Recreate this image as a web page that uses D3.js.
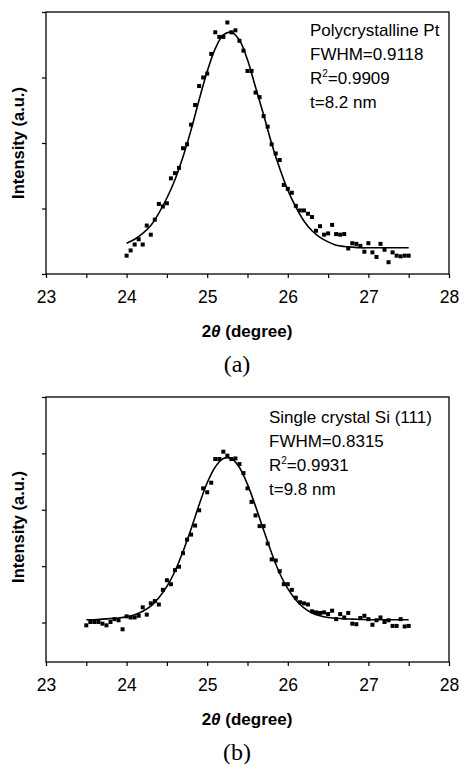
<!DOCTYPE html>
<html>
<head>
<meta charset="utf-8">
<script src="https://cdn.jsdelivr.net/npm/d3@7"></script>
<style>
  body { margin: 0; background: #fff; }
  text { font-family: Arial, "Liberation Sans", sans-serif; fill: #000; }
</style>
</head>
<body>
<div id="chart"></div>
<script>
// XRD peak, measured intensity every 0.05 deg (a.u.)
// (a) polycrystalline Pt, 24.00 .. 27.50
var ptsA = [0.28, 0.36, 0.45, 0.53, 0.45, 0.74, 0.60, 0.83, 1.07, 1.03,
            1.08, 1.46, 1.54, 1.62, 1.92, 1.98, 2.28, 2.58, 2.87, 3.00,
            3.06, 3.36, 3.69, 3.62, 3.62, 3.84, 3.69, 3.72, 3.56, 3.41,
            3.10, 3.10, 2.77, 2.70, 2.41, 2.25, 1.98, 1.84, 1.74, 1.36,
            1.30, 1.24, 1.04, 0.97, 0.97, 0.92, 0.87, 0.66, 0.73, 0.60,
            0.62, 0.75, 0.61, 0.60, 0.61, 0.39, 0.47, 0.46, 0.43, 0.34,
            0.47, 0.33, 0.26, 0.46, 0.37, 0.18, 0.33, 0.28, 0.27, 0.28, 0.28];
// fitted curve read every 0.1 deg, 24.0 .. 27.5
var fitA = [0.47, 0.53, 0.62, 0.74, 0.93, 1.16, 1.44, 1.79, 2.20, 2.66,
            3.09, 3.44, 3.65, 3.69, 3.57, 3.27, 2.85, 2.43, 1.99, 1.61,
            1.28, 1.02, 0.81, 0.66, 0.56, 0.49, 0.44, 0.42, 0.41, 0.40,
            0.40, 0.40, 0.40, 0.40, 0.40, 0.40];

// (b) single crystal Si (111), 23.50 .. 27.50
var ptsB = [-0.05, 0.01, 0.01, 0.01, -0.02, -0.05, 0.01, 0.06, 0.04, -0.12,
            0.11, 0.09, 0.09, 0.12, 0.27, 0.14, 0.34, 0.38, 0.32, 0.58,
            0.75, 0.68, 0.93, 0.99, 1.23, 1.47, 1.56, 1.72, 1.99, 2.38,
            2.31, 2.48, 2.90, 2.90, 3.03, 2.96, 2.90, 2.91, 2.81, 2.65,
            2.38, 2.14, 1.90, 1.71, 1.71, 1.40, 1.12, 1.10, 0.91, 0.68,
            0.68, 0.58, 0.44, 0.36, 0.34, 0.32, 0.20, 0.18, 0.17, 0.18,
            0.15, 0.21, 0.06, 0.15, 0.09, 0.17, -0.02, -0.03, 0.08, 0.12,
            0.06, -0.04, 0.04, 0.09, 0.01, 0.04, -0.06, -0.06, 0.06, -0.07, -0.06];
var fitB = [0.05, 0.05, 0.06, 0.07, 0.08, 0.10, 0.14, 0.20, 0.29, 0.44,
            0.64, 0.91, 1.26, 1.66, 2.09, 2.48, 2.76, 2.91, 2.91, 2.75,
            2.45, 2.06, 1.64, 1.23, 0.87, 0.60, 0.40, 0.26, 0.17, 0.12,
            0.09, 0.075, 0.065, 0.06, 0.055, 0.05, 0.05, 0.05, 0.05, 0.05, 0.05];

var xTicks = [23, 23.5, 24, 24.5, 25, 25.5, 26, 26.5, 27, 27.5, 28];
var yTicks = [0, 1, 2, 3, 4];

var notesA = ['Polycrystalline Pt', 'FWHM=0.9118', 'R^2=0.9909', 't=8.2 nm'];
var notesB = ['Single crystal Si (111)', 'FWHM=0.8315', 'R^2=0.9931', 't=9.8 nm'];

var width = 459, height = 764;

var svg = d3.select('#chart').append('svg')
    .attr('width', width)
    .attr('height', height);

function grid(start, end, step) {
    // evenly spaced 2theta positions
    var n = Math.round((end - start) / step);
    return d3.range(n + 1).map(function(i) { return +(start + i * step).toFixed(2); });
}

function panel(o) {
    var x = d3.scaleLinear().domain([23, 28]).range([46, 449]);
    var y = d3.scaleLinear().domain(o.yDomain).range([o.bottom, o.top]);
    var g = svg.append('g');

    // frame
    g.append('rect')
        .attr('x', 46).attr('y', o.top)
        .attr('width', 403).attr('height', o.bottom - o.top)
        .attr('fill', 'none').attr('stroke', '#000').attr('stroke-width', 1.3);

    var xAxis = d3.axisBottom(x).tickValues(xTicks).tickSize(4)
        .tickFormat(function(d) { return d % 1 === 0 ? d : ''; });
    var gx = g.append('g').attr('transform', 'translate(0,' + o.bottom + ')').call(xAxis);
    gx.select('.domain').remove();
    gx.selectAll('line').attr('stroke-width', 1.2);
    gx.selectAll('text').attr('dy', 0).attr('y', 29)
        .style('font-size', '17.5px').style('font-family', 'Arial, "Liberation Sans", sans-serif');

    var yAxis = d3.axisLeft(y).tickValues(yTicks).tickSize(4).tickFormat('');
    var gy = g.append('g').attr('transform', 'translate(46,0)').call(yAxis);
    gy.select('.domain').remove();
    gy.selectAll('line').attr('stroke-width', 1.2);

    // fit
    var fx = grid(o.x0, 27.5, 0.1);
    var line = d3.line()
        .x(function(d, i) { return x(fx[i]); })
        .y(function(d) { return y(d); })
        .curve(d3.curveCatmullRom);
    g.append('path').datum(o.fit)
        .attr('d', line)
        .attr('fill', 'none').attr('stroke', '#000').attr('stroke-width', 1.6);

    // data squares
    var px = grid(o.x0, 27.5, 0.05);
    g.selectAll('rect.pt').data(o.pts).enter().append('rect')
        .attr('class', 'pt')
        .attr('x', function(d, i) { return x(px[i]) - 2; })
        .attr('y', function(d) { return y(d) - 2; })
        .attr('width', 4).attr('height', 4)
        .attr('fill', '#000');

    // annotation
    var notes = g.append('g');
    o.notes.forEach(function(s, i) {
        var t = notes.append('text')
            .attr('x', o.noteX).attr('y', o.noteY + i * 24)
            .style('font-size', '17px');
        var parts = s.split('^');
        if (parts.length > 1) {
            t.append('tspan').text(parts[0]);
            t.append('tspan').attr('dy', -7).style('font-size', '10px').text(parts[1].charAt(0));
            t.append('tspan').attr('dy', 7).text(parts[1].slice(1));
        } else {
            t.text(s);
        }
    });

    // axis titles
    var xt = g.append('text')
        .attr('x', 247).attr('y', o.bottom + 63)
        .attr('text-anchor', 'middle')
        .style('font-size', '17px').style('font-weight', 'bold');
    xt.append('tspan').text('2');
    xt.append('tspan').style('font-style', 'italic').text('\u03B8');
    xt.append('tspan').text(' (degree)');

    g.append('text')
        .attr('transform', 'translate(24,' + o.yMid + ') rotate(-90)')
        .attr('text-anchor', 'middle')
        .style('font-size', '16.5px').style('font-weight', 'bold')
        .text('Intensity (a.u.)');

    g.append('text')
        .attr('x', 237).attr('y', o.bottom + 98)
        .attr('text-anchor', 'middle')
        .style('font-family', '"Times New Roman", "Liberation Serif", serif')
        .style('font-size', '24px')
        .text(o.tag);
}

panel({ top: 12, bottom: 274, yDomain: [0, 4], x0: 24, pts: ptsA, fit: fitA,
        notes: notesA, noteX: 310, noteY: 36, yMid: 143, tag: '(a)' });
panel({ top: 397, bottom: 662, yDomain: [-0.7, 4], x0: 23.5, pts: ptsB, fit: fitB,
        notes: notesB, noteX: 269, noteY: 423, yMid: 527, tag: '(b)' });
</script>
</body>
</html>
